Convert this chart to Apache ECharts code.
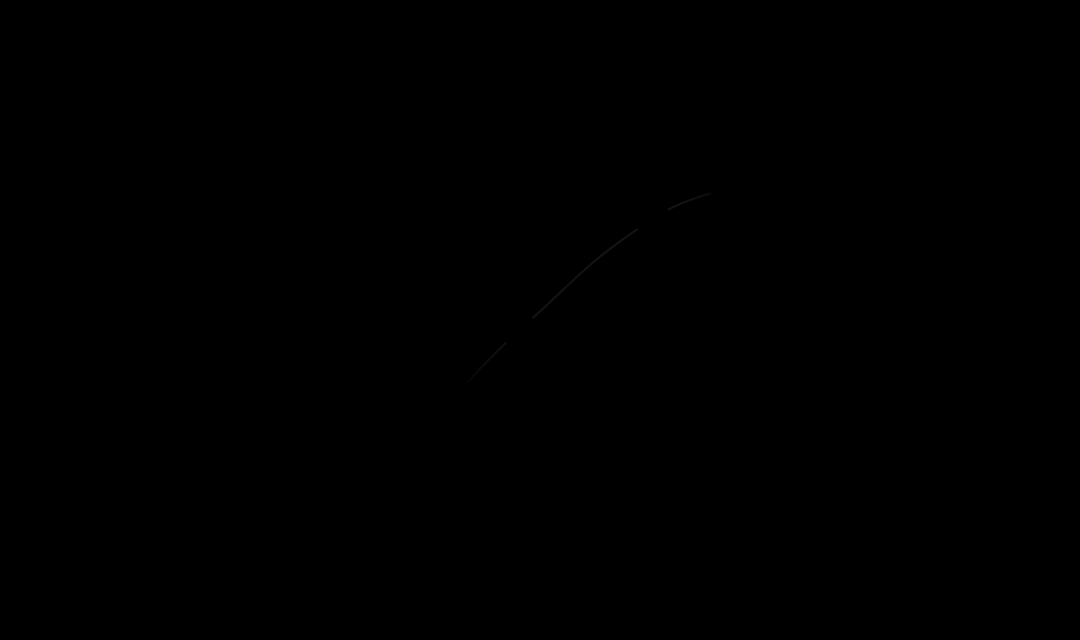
<!DOCTYPE html>
<html>
<head>
<meta charset="utf-8">
<style>html,body{margin:0;padding:0;background:#000;}#c{width:1080px;height:640px;}</style>
<script src="https://cdn.jsdelivr.net/npm/echarts@6/dist/echarts.min.js"></script>
</head>
<body>
<div id="c"></div>
<script>
var xValues = [42.1, 48.1, 60.4, 67.4];
var yValues = [38.0, 48.4, 65.8, 70.4];

var chart = echarts.init(document.getElementById('c'));
var data = xValues.map(function (x, i) { return [x, yValues[i]]; });
chart.setOption({
  backgroundColor: '#000',
  animation: false,
  grid: { left: 0, right: 0, top: 0, bottom: 0 },
  xAxis: { type: 'value', min: 0, max: 100, show: false },
  yAxis: { type: 'value', min: 0, max: 100, show: false },
  series: [{
    type: 'line',
    smooth: true,
    data: data,
    symbol: 'circle',
    symbolSize: 36,
    itemStyle: { color: '#000', borderWidth: 0 },
    lineStyle: {
      width: 2,
      color: {
        type: 'linear', x: 0, y: 0, x2: 1, y2: 0,
        colorStops: [
          { offset: 0, color: 'rgba(22,22,22,0)' },
          { offset: 0.2, color: 'rgba(18,18,18,1)' },
          { offset: 0.8, color: 'rgba(20,20,20,1)' },
          { offset: 1, color: 'rgba(24,24,24,0.3)' }
        ]
      }
    },
    z: 2
  }]
});
</script>
</body>
</html>
